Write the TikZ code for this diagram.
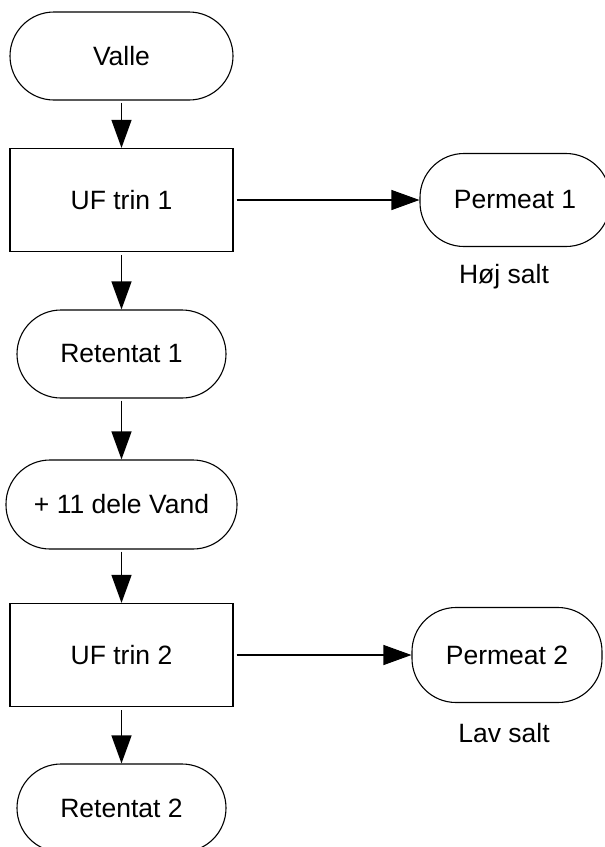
\documentclass[tikz,border=0pt]{standalone}
\usepackage{fontspec}
\setmainfont{Liberation Sans}
\usetikzlibrary{arrows.meta}
\tikzset{
  termblock/.style={
    rectangle, draw=black, fill=white, line width=1.1pt,
    rounded corners=44pt, minimum height=88pt,
    font=\fontsize{26.5}{31}\selectfont, inner sep=0pt
  },
  stepblock/.style={
    rectangle, draw=black, fill=white, line width=1.1pt,
    minimum width=223pt, minimum height=103pt,
    font=\fontsize{26.5}{31}\selectfont, inner sep=0pt
  },
  flowarrow/.style={
    -{Triangle[length=28pt, width=20pt]}, line width=1.1pt,
    shorten <=2pt
  },
  labelnode/.style={
    font=\fontsize{26.5}{31}\selectfont
  },
}
\begin{document}
\begin{tikzpicture}[x=1pt, y=-1pt]
  \useasboundingbox (0,0) rectangle (605,847);
  \clip (0,0) rectangle (605,847);

  % Stage 1
  \node[termblock, minimum width=223pt] (valle) at (121.5,56) {Valle};
  \node[stepblock] (uf1) at (121.5,200) {UF trin 1};
  \node[termblock, minimum width=190pt, minimum height=93pt] (perm1) at (515,200) {Permeat 1};
  \node[labelnode] (hoj) at (504,277) {Høj salt};
  \node[termblock, minimum width=209pt] (ret1) at (121.5,354) {Retentat 1};

  % Dilution
  \node[termblock, minimum width=231pt, minimum height=89pt] (vand) at (121.5,504.5) {+ 11 dele Vand};

  % Stage 2
  \node[stepblock] (uf2) at (121.5,655) {UF trin 2};
  \node[termblock, minimum width=190pt, minimum height=95pt] (perm2) at (507,655) {Permeat 2};
  \node[labelnode] (lav) at (504,733) {Lav salt};
  \node[termblock, minimum width=209pt] (ret2) at (121.5,808) {Retentat 2};

  % Arrows
  \draw[flowarrow] (valle) -- (uf1);
  \draw[flowarrow, shorten <=3pt] (uf1) -- (perm1);
  \draw[flowarrow, shorten <=3pt] (uf1) -- (ret1);
  \draw[flowarrow] (ret1) -- (vand);
  \draw[flowarrow] (vand) -- (uf2);
  \draw[flowarrow, shorten <=3pt] (uf2) -- (perm2);
  \draw[flowarrow, shorten <=3pt] (uf2) -- (ret2);
\end{tikzpicture}
\end{document}
